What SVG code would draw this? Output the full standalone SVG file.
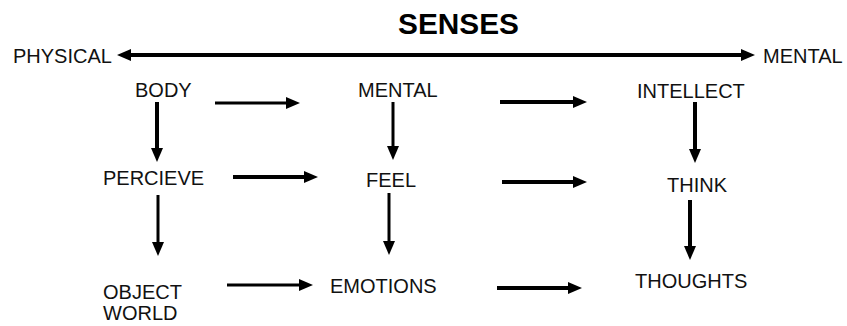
<svg xmlns="http://www.w3.org/2000/svg" width="847" height="326" viewBox="0 0 847 326">
<style>
.t{font-family:"Liberation Sans",Arial,sans-serif;font-size:20px;fill:#111}
.title{font-family:"Liberation Sans",Arial,sans-serif;font-size:29px;font-weight:bold;fill:#000}
.c line{stroke:#000;fill:none}
.a{marker-end:url(#ah)}
</style>
<defs>
<marker id="ah" markerUnits="userSpaceOnUse" markerWidth="16" markerHeight="14" refX="6" refY="6" orient="auto-start-reverse" viewBox="0 0 16 14">
<path d="M0,0 L14,6 L0,12 z" fill="#000"/>
</marker>
</defs>
<rect width="847" height="326" fill="#fff"/>
<g id="title"><text class="title" x="398" y="34" textLength="121" lengthAdjust="spacingAndGlyphs">SENSES</text></g>
<g id="physical"><text class="t" x="13" y="63">PHYSICAL</text></g>
<g id="mental-end"><text class="t" x="763" y="63">MENTAL</text></g>
<g id="body"><text class="t" x="135" y="97">BODY</text></g>
<g id="mental"><text class="t" x="358" y="97">MENTAL</text></g>
<g id="intellect"><text class="t" x="637" y="98">INTELLECT</text></g>
<g id="percieve"><text class="t" x="103" y="185">PERCIEVE</text></g>
<g id="feel"><text class="t" x="366" y="187">FEEL</text></g>
<g id="think"><text class="t" x="667" y="192">THINK</text></g>
<g id="object-world"><text class="t" x="103" y="299">OBJECT</text><text class="t" x="103" y="320">WORLD</text></g>
<g id="emotions"><text class="t" x="330" y="293">EMOTIONS</text></g>
<g id="thoughts"><text class="t" x="635" y="288">THOUGHTS</text></g>
<g id="connectors" class="c">
<line x1="125" y1="55" x2="747" y2="55" stroke-width="4" marker-start="url(#ah)" marker-end="url(#ah)"/>
<line class="a" x1="215" y1="103" x2="292" y2="103" stroke-width="3"/>
<line class="a" x1="500" y1="102" x2="579" y2="102" stroke-width="4"/>
<line class="a" x1="233" y1="177" x2="310" y2="177" stroke-width="4"/>
<line class="a" x1="502" y1="182" x2="579" y2="182" stroke-width="4"/>
<line class="a" x1="227" y1="285" x2="305" y2="285" stroke-width="3"/>
<line class="a" x1="497" y1="288" x2="574" y2="288" stroke-width="4"/>
<line class="a" x1="157" y1="102" x2="157" y2="154" stroke-width="4"/>
<line class="a" x1="158" y1="195" x2="158" y2="248" stroke-width="3"/>
<line class="a" x1="393" y1="102" x2="393" y2="152" stroke-width="3"/>
<line class="a" x1="389" y1="193" x2="389" y2="247" stroke-width="3"/>
<line class="a" x1="695" y1="102" x2="695" y2="155" stroke-width="4"/>
<line class="a" x1="690" y1="200" x2="690" y2="252" stroke-width="4"/>
</g>
</svg>
